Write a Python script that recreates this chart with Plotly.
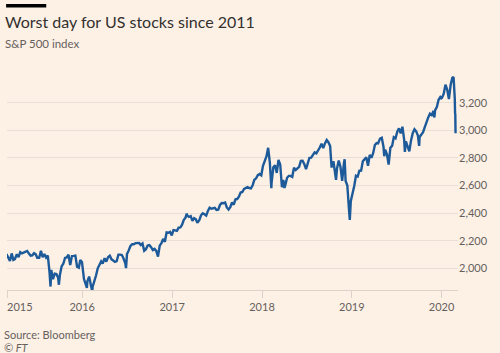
import plotly.graph_objects as go

dates = [
"2015-02-27","2015-03-06","2015-03-13","2015-03-20","2015-03-27","2015-04-02","2015-04-10","2015-04-17","2015-04-24",
"2015-05-01","2015-05-08","2015-05-15","2015-05-22","2015-05-29","2015-06-05","2015-06-12","2015-06-19","2015-06-26",
"2015-07-02","2015-07-10","2015-07-17","2015-07-24","2015-07-31","2015-08-07","2015-08-14","2015-08-21","2015-08-25",
"2015-08-28","2015-09-04","2015-09-11","2015-09-18","2015-09-25","2015-09-28","2015-10-02","2015-10-09","2015-10-16",
"2015-10-23","2015-10-30","2015-11-06","2015-11-13","2015-11-20","2015-11-27","2015-12-04","2015-12-11","2015-12-18",
"2015-12-24","2015-12-31",
"2016-01-08","2016-01-15","2016-01-20","2016-01-22","2016-01-29","2016-02-05","2016-02-11","2016-02-12","2016-02-19",
"2016-02-26","2016-03-04","2016-03-11","2016-03-18","2016-03-24","2016-04-01","2016-04-08","2016-04-15","2016-04-22",
"2016-04-29","2016-05-06","2016-05-13","2016-05-20","2016-05-27","2016-06-03","2016-06-10","2016-06-17","2016-06-24",
"2016-06-27","2016-07-01","2016-07-08","2016-07-15","2016-07-22","2016-07-29","2016-08-05","2016-08-12","2016-08-19",
"2016-08-26","2016-09-02","2016-09-09","2016-09-16","2016-09-23","2016-09-30","2016-10-07","2016-10-14","2016-10-21",
"2016-10-28","2016-11-04","2016-11-11","2016-11-18","2016-11-25","2016-12-02","2016-12-09","2016-12-16","2016-12-23",
"2016-12-30",
"2017-01-06","2017-01-13","2017-01-20","2017-01-27","2017-02-03","2017-02-10","2017-02-17","2017-02-24","2017-03-01",
"2017-03-03","2017-03-10","2017-03-17","2017-03-24","2017-03-31","2017-04-07","2017-04-13","2017-04-21","2017-04-28",
"2017-05-05","2017-05-12","2017-05-19","2017-05-26","2017-06-02","2017-06-09","2017-06-16","2017-06-23","2017-06-30",
"2017-07-07","2017-07-14","2017-07-21","2017-07-28","2017-08-04","2017-08-11","2017-08-18","2017-08-25","2017-09-01",
"2017-09-08","2017-09-15","2017-09-22","2017-09-29","2017-10-06","2017-10-13","2017-10-20","2017-10-27","2017-11-03",
"2017-11-10","2017-11-17","2017-11-24","2017-12-01","2017-12-08","2017-12-15","2017-12-22","2017-12-29",
"2018-01-05","2018-01-12","2018-01-19","2018-01-26","2018-02-02","2018-02-08","2018-02-09","2018-02-16","2018-02-23",
"2018-03-02","2018-03-09","2018-03-16","2018-03-23","2018-03-29","2018-04-02","2018-04-06","2018-04-13","2018-04-20",
"2018-04-27","2018-05-04","2018-05-11","2018-05-18","2018-05-25","2018-06-01","2018-06-08","2018-06-15","2018-06-22",
"2018-06-29","2018-07-06","2018-07-13","2018-07-20","2018-07-27","2018-08-03","2018-08-10","2018-08-17","2018-08-24",
"2018-08-31","2018-09-07","2018-09-14","2018-09-21","2018-09-28","2018-10-05","2018-10-11","2018-10-12","2018-10-19",
"2018-10-26","2018-10-29","2018-11-02","2018-11-09","2018-11-16","2018-11-23","2018-11-30","2018-12-03","2018-12-07",
"2018-12-14","2018-12-21","2018-12-24","2018-12-28","2018-12-31",
"2019-01-04","2019-01-11","2019-01-18","2019-01-25","2019-02-01","2019-02-08","2019-02-15","2019-02-22","2019-03-01",
"2019-03-08","2019-03-15","2019-03-22","2019-03-29","2019-04-05","2019-04-12","2019-04-18","2019-04-26","2019-05-03",
"2019-05-10","2019-05-13","2019-05-17","2019-05-24","2019-05-31","2019-06-07","2019-06-14","2019-06-21","2019-06-28",
"2019-07-05","2019-07-12","2019-07-19","2019-07-26","2019-08-02","2019-08-05","2019-08-09","2019-08-16","2019-08-23",
"2019-08-30","2019-09-06","2019-09-13","2019-09-20","2019-09-27","2019-10-02","2019-10-04","2019-10-11","2019-10-18",
"2019-10-25","2019-11-01","2019-11-08","2019-11-15","2019-11-22","2019-11-29","2019-12-03","2019-12-06","2019-12-13",
"2019-12-20","2019-12-27","2019-12-31",
"2020-01-03","2020-01-10","2020-01-17","2020-01-24","2020-01-31","2020-02-07","2020-02-14","2020-02-19","2020-02-21",
"2020-02-24","2020-02-25","2020-02-26","2020-02-27",
]
spx = [
2104,2071,2053,2108,2061,2067,2102,2081,2117,
2108,2116,2123,2126,2107,2092,2094,2110,2101,
2077,2077,2127,2080,2104,2078,2092,1971,1868,
1989,1921,1961,1958,1931,1881,1951,2014,2033,
2075,2079,2099,2023,2089,2090,2092,2012,2005,
2061,2044,
1922,1880,1859,1907,1940,1880,1829,1865,1918,
1948,2000,2022,2050,2035,2073,2048,2081,2092,
2065,2057,2047,2052,2099,2099,2096,2071,2037,
2001,2103,2130,2162,2175,2174,2183,2184,2184,
2169,2180,2128,2139,2165,2168,2153,2133,2141,
2126,2085,2164,2182,2213,2192,2260,2258,2264,
2239,
2277,2275,2271,2295,2297,2316,2351,2367,2396,
2383,2373,2378,2344,2363,2355,2329,2349,2384,
2399,2391,2382,2416,2439,2432,2433,2438,2423,
2425,2459,2473,2472,2477,2441,2426,2443,2477,
2461,2500,2502,2519,2549,2553,2575,2581,2588,
2582,2579,2602,2642,2652,2675,2683,2674,
2743,2786,2810,2873,2762,2581,2620,2732,2747,
2691,2786,2752,2588,2641,2582,2604,2656,2670,
2670,2663,2728,2713,2721,2735,2779,2780,2755,
2718,2760,2801,2802,2819,2840,2833,2850,2875,
2902,2872,2905,2930,2914,2886,2729,2767,2768,
2659,2641,2723,2781,2736,2633,2760,2790,2633,
2600,2417,2351,2486,2507,
2532,2596,2671,2665,2707,2708,2776,2793,2804,
2743,2822,2801,2834,2893,2907,2905,2940,2946,
2881,2812,2860,2826,2752,2873,2887,2950,2942,
2990,3014,2977,3026,2932,2844,2919,2889,2847,
2926,2979,3007,2992,2962,2887,2952,2970,2986,
3023,3067,3093,3120,3110,3141,3093,3146,3169,
3221,3240,3231,
3235,3265,3330,3295,3226,3328,3380,3386,3338,
3226,3128,3116,2979,
]

year_ticks = ["2016-01-01","2017-01-01","2018-01-01","2019-01-01","2020-01-01"]
year_labels = ["2016","2017","2018","2019","2020"]
y_ticks = [2000,2200,2400,2600,2800,3000,3200]
y_labels = ["2,000","2,200","2,400","2,600","2,800","3,000","3,200"]

BG = "#fdf1e6"
GRID = "#e9dfd6"
TXT = "#66605c"
FONT = "Lato"

fig = go.Figure()
fig.add_trace(go.Scatter(
    x=dates, y=spx, mode="lines",
    line=dict(color="#1d5a9a", width=2.4),
    hoverinfo="skip", showlegend=False,
))

fig.update_layout(
    width=500, height=353,
    paper_bgcolor=BG, plot_bgcolor=BG,
    margin=dict(l=7, r=42, t=65, b=63),
    font=dict(family=FONT, color=TXT, size=11),
    xaxis=dict(
        range=["2015-03-01", "2020-03-08"],
        tickvals=["2015-03-01"] + year_ticks, ticktext=[""] + year_labels,
        showgrid=False, showline=True, linecolor="#ddd2c8", linewidth=1,
        ticks="outside", ticklen=7, tickcolor="#ddd2c8", tickwidth=1,
        tickfont=dict(size=11, color=TXT), zeroline=False,
    ),
    yaxis=dict(
        range=[1843, 3473], side="right",
        tickvals=y_ticks, ticktext=y_labels,
        showgrid=True, gridcolor=GRID, gridwidth=1,
        showline=False, zeroline=False, ticks="",
        tickfont=dict(size=11, color=TXT),
    ),
)

# FT top bar
fig.add_shape(type="rect", xref="paper", yref="paper",
              x0=-0.002, x1=0.087, y0=(353-65-4)/225, y1=(353-65-7.5)/225 ,
              line=dict(width=0), fillcolor="#000000")
fig.update_shapes(dict(y0=1 + (65-7.5)/225, y1=1 + (65-4)/225))

def txt(text, x, y, size, color, italic=False):
    fig.add_annotation(text=text, x=x, y=y, xref="paper", yref="paper",
                       xanchor="left", yanchor="middle", showarrow=False,
                       font=dict(size=size, color=color, family=FONT,
                                 style="italic" if italic else "normal"))

plot_h = 225.0
def py(pix):
    return (290 - pix) / plot_h

def px(pix):
    return (pix - 7) / 451.0

txt("Worst day for US stocks since 2011", px(3), py(21), 16, "#33302e")
txt("S&P 500 index", px(3), py(43), 11.5, TXT)
txt("2015", px(5), py(306.5), 11, TXT)
txt("Source: Bloomberg", px(2), py(334), 11, TXT)
txt("© FT", px(2), py(347), 11, TXT, italic=True)

fig.write_html("out.html")
